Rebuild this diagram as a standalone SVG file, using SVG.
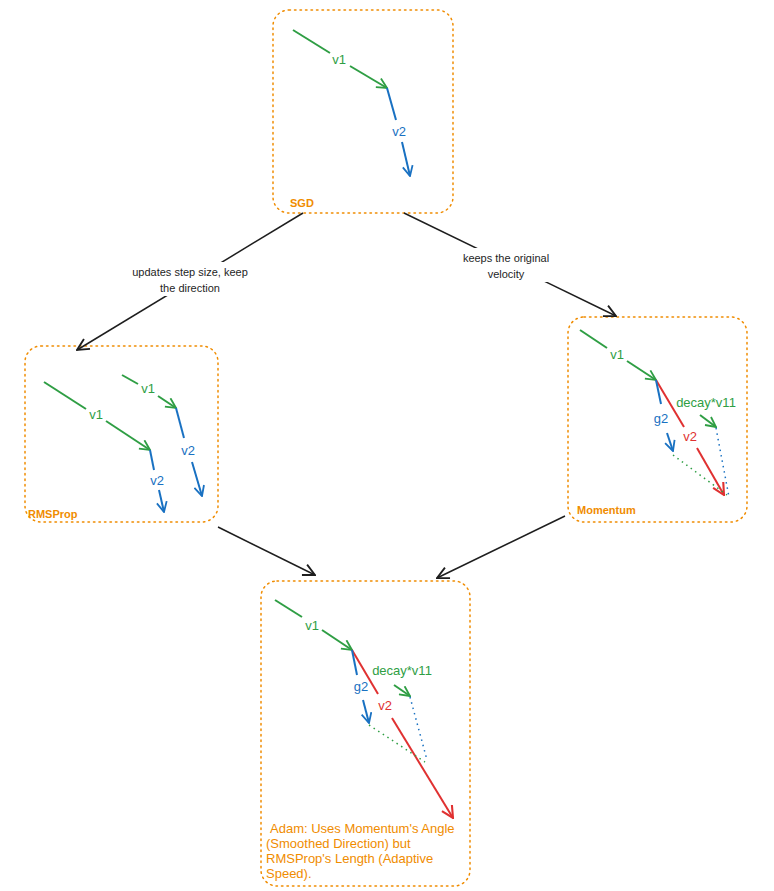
<svg xmlns="http://www.w3.org/2000/svg" width="774" height="891" viewBox="0 0 774 891">
<defs>
<style>
text{font-family:"Liberation Sans",sans-serif;font-size:12px}
.box{fill:none;stroke:#f08c00;stroke-width:1.5;stroke-dasharray:1.5 4;stroke-linecap:round}
.g{stroke:#2f9e44;stroke-width:2;fill:none}
.b{stroke:#1971c2;stroke-width:2;fill:none}
.r{stroke:#e03131;stroke-width:2;fill:none}
.k{stroke:#1e1e1e;stroke-width:1.5;fill:none}
.dg{stroke:#2f9e44;stroke-width:1.5;stroke-dasharray:1.5 4;fill:none}
.db{stroke:#1971c2;stroke-width:1.5;stroke-dasharray:1.5 4;fill:none}
.tg{fill:#2f9e44;text-anchor:middle;font-size:13px}
.tb{fill:#1971c2;text-anchor:middle;font-size:13px}
.tr{fill:#e03131;text-anchor:middle;font-size:13px}
.to{fill:#f08c00;font-size:11px;font-weight:bold}
.ta{fill:#f08c00;font-size:13px}
.tk{fill:#1e1e1e;text-anchor:middle;font-size:11px}
</style>
<marker id="ag" viewBox="0 0 12 12" refX="11" refY="6" markerWidth="12" markerHeight="12" markerUnits="userSpaceOnUse" orient="auto"><path d="M1,1 L11,6 L1,11" fill="none" stroke="#2f9e44" stroke-width="1.8"/></marker>
<marker id="ab" viewBox="0 0 12 12" refX="11" refY="6" markerWidth="12" markerHeight="12" markerUnits="userSpaceOnUse" orient="auto"><path d="M1,1 L11,6 L1,11" fill="none" stroke="#1971c2" stroke-width="1.8"/></marker>
<marker id="ar" viewBox="0 0 12 12" refX="11" refY="6" markerWidth="14" markerHeight="14" markerUnits="userSpaceOnUse" orient="auto"><path d="M1,1 L11,6 L1,11" fill="none" stroke="#e03131" stroke-width="1.8"/></marker>
<marker id="ak" viewBox="0 0 12 12" refX="11" refY="6" markerWidth="14" markerHeight="14" markerUnits="userSpaceOnUse" orient="auto"><path d="M1,1 L11,6 L1,11" fill="none" stroke="#1e1e1e" stroke-width="1.6"/></marker>
</defs>

<g id="sgd">
<rect class="box" x="273" y="10" width="180" height="203" rx="16"/>
<line class="g" x1="293" y1="30" x2="330" y2="53"/>
<line class="g" x1="350" y1="66" x2="387" y2="88" marker-end="url(#ag)"/>
<text class="tg" x="339" y="64">v1</text>
<line class="b" x1="387" y1="88" x2="396" y2="120"/>
<line class="b" x1="402" y1="142" x2="410" y2="176" marker-end="url(#ab)"/>
<text class="tb" x="399" y="136">v2</text>
<text class="to" x="290" y="207">SGD</text>
</g>

<g id="rmsprop">
<rect class="box" x="25" y="346" width="193" height="176" rx="16"/>
<line class="g" x1="44" y1="382" x2="86" y2="409"/>
<line class="g" x1="106" y1="421" x2="150" y2="450" marker-end="url(#ag)"/>
<text class="tg" x="96" y="419">v1</text>
<line class="b" x1="150" y1="450" x2="154" y2="470"/>
<line class="b" x1="159" y1="490" x2="164" y2="512" marker-end="url(#ab)"/>
<text class="tb" x="157" y="485">v2</text>
<line class="g" x1="122" y1="375" x2="138" y2="384"/>
<line class="g" x1="158" y1="396" x2="176" y2="408" marker-end="url(#ag)"/>
<text class="tg" x="148" y="393">v1</text>
<line class="b" x1="176" y1="408" x2="184" y2="438"/>
<line class="b" x1="192" y1="462" x2="202" y2="496" marker-end="url(#ab)"/>
<text class="tb" x="188" y="455">v2</text>
<text class="to" x="28" y="518">RMSProp</text>
</g>

<g id="momentum">
<rect class="box" x="568" y="317" width="179" height="205" rx="16"/>
<line class="g" x1="580" y1="330" x2="607" y2="348"/>
<line class="g" x1="627" y1="361" x2="656" y2="380" marker-end="url(#ag)"/>
<text class="tg" x="617" y="359">v1</text>
<line class="r" x1="656" y1="380" x2="684" y2="427"/>
<line class="r" x1="697" y1="448" x2="724" y2="495" marker-end="url(#ar)"/>
<text class="tr" x="690" y="441">v2</text>
<line class="b" x1="656" y1="380" x2="661" y2="404"/>
<line class="b" x1="667" y1="433" x2="673" y2="451" marker-end="url(#ab)"/>
<text class="tb" x="661" y="423">g2</text>
<line class="g" x1="700" y1="415" x2="716" y2="427" marker-end="url(#ag)"/>
<text class="tg" x="706" y="407">decay*v11</text>
<line class="dg" x1="673" y1="455" x2="727" y2="495"/>
<line class="db" x1="716" y1="428" x2="729" y2="497"/>
<text class="to" x="577" y="514">Momentum</text>
</g>

<g id="adam">
<rect class="box" x="261" y="581" width="209" height="305" rx="16"/>
<line class="g" x1="275" y1="600" x2="302" y2="617"/>
<line class="g" x1="322" y1="630" x2="352" y2="650" marker-end="url(#ag)"/>
<text class="tg" x="312" y="630">v1</text>
<line class="r" x1="352" y1="650" x2="378" y2="694"/>
<line class="r" x1="392" y1="718" x2="453" y2="818" marker-end="url(#ar)"/>
<text class="tr" x="385" y="710">v2</text>
<line class="b" x1="352" y1="650" x2="357" y2="675"/>
<line class="b" x1="363" y1="700" x2="369" y2="723" marker-end="url(#ab)"/>
<text class="tb" x="361" y="691">g2</text>
<line class="g" x1="394" y1="685" x2="410" y2="696" marker-end="url(#ag)"/>
<text class="tg" x="402" y="675">decay*v11</text>
<line class="dg" x1="369" y1="725" x2="425" y2="762"/>
<line class="db" x1="410" y1="697" x2="427" y2="760"/>
<text class="ta" x="270" y="833">Adam: Uses Momentum's Angle</text>
<text class="ta" x="266" y="848">(Smoothed Direction) but</text>
<text class="ta" x="266" y="863">RMSProp's Length (Adaptive</text>
<text class="ta" x="266" y="878">Speed).</text>
</g>

<g id="connectors">
<path class="k" d="M303,213 L77,350" marker-end="url(#ak)"/>
<rect x="112" y="262" width="160" height="34" fill="#fff"/>
<text class="tk" x="190" y="276">updates step size, keep</text>
<text class="tk" x="190" y="292">the direction</text>
<path class="k" d="M404,213 L616,316" marker-end="url(#ak)"/>
<rect x="448" y="248" width="116" height="34" fill="#fff"/>
<text class="tk" x="506" y="262">keeps the original</text>
<text class="tk" x="506" y="278">velocity</text>
<path class="k" d="M218,527 L315,575" marker-end="url(#ak)"/>
<path class="k" d="M565,516 L437,578" marker-end="url(#ak)"/>
</g>
</svg>
